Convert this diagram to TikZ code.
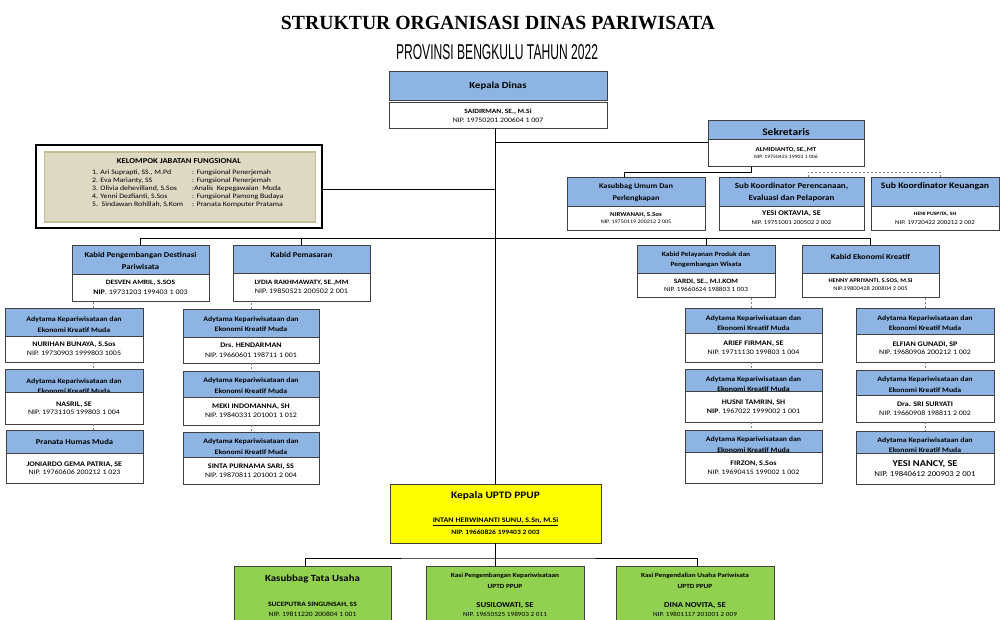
\documentclass[tikz,border=0pt]{standalone}
\usepackage{fontspec}
\setmainfont{Carlito}[FakeStretch=1.15]
\newfontfamily\ttlfont{Liberation Serif}
\newfontfamily\subfont{Liberation Sans}
\usetikzlibrary{calc}
\definecolor{hdrblue}{RGB}{141,180,226}
\definecolor{bordc}{RGB}{64,64,64}
\definecolor{khaki}{RGB}{221,217,195}
\definecolor{khakib}{RGB}{196,189,151}
\definecolor{grn}{RGB}{146,208,80}
\definecolor{ylw}{RGB}{255,255,0}
\newcommand{\fsz}[2]{\fontsize{#1}{#2}\selectfont}
\newcommand{\adyhd}{\fsz{6.8}{10.5}\bfseries Adytama Kepariwisataan dan\\Ekonomi Kreatif Muda}
\newcommand{\adyby}[3]{{\fsz{7}{7}\bfseries #1}\\\fsz{6.9}{#3}#2}
% name, x, y, width, visible header height, header node height, body height, header text, body text
\newcommand{\orgbx}[9]{%
 \node[hdr, text width=#4pt, minimum width=#4pt, minimum height=#6pt, anchor=north west] (#1h) at (#2,#3) {#8\par};
 \node[bdy, text width=#4pt, minimum width=#4pt, minimum height=#7pt, anchor=north west] (#1) at ($(#1h.north west)+(0,#5)$) {#9\par};
}
\tikzset{
 hdr/.style={draw=bordc, line width=0.8pt, fill=hdrblue, inner sep=0pt, outer sep=0pt, align=flush center, text=black},
 bdy/.style={draw=bordc, line width=0.8pt, fill=white, inner sep=0pt, outer sep=0pt, align=flush center, text=black},
 gbox/.style={draw=bordc, line width=0.8pt, fill=grn, inner sep=0pt, outer sep=0pt, align=flush center, text=black},
 conn/.style={draw=black, line width=0.7pt},
 dconn/.style={draw=gray, line width=0.7pt, dash pattern=on 2pt off 2pt},
}
\begin{document}
\begin{tikzpicture}[x=1pt, y=-1pt]
\useasboundingbox (0,0) rectangle (1000,620);
\fill[white] (0,0) rectangle (1000,620);
\clip (0,0) rectangle (1000,620);

% titles
\node[inner sep=0pt] (ttl) at (498,23) {\resizebox{434pt}{13.3pt}{\ttlfont\bfseries STRUKTUR ORGANISASI DINAS PARIWISATA}};
\node[inner sep=0pt] (sub) at (497,52) {\resizebox{202pt}{15pt}{\subfont PROVINSI BENGKULU TAHUN 2022}};

% top
\orgbx{kd}{389}{71}{218}{31}{29}{26.5}{\fsz{9.3}{11}\bfseries Kepala Dinas}{{\fsz{6.5}{7}\bfseries SAIDIRMAN, SE., M.Si}\\\fsz{6.8}{9}NIP. 19750201 200604 1 007}
\orgbx{sek}{708}{120}{156}{19.3}{23.4}{27.4}{\fsz{10}{11}\bfseries Sekretaris}{{\fsz{6}{6}\bfseries ALMIDIANTO, SE.,MT}\\\fsz{5}{6.5}NIP. 19750425 19903 1 006}
\orgbx{kum}{567}{177}{138}{29}{32}{24}{\fsz{7.2}{12}\bfseries Kasubbag Umum Dan\\Perlengkapan}{{\fsz{6}{6}\bfseries NIRWANAH, S.Sos}\\\fsz{5.3}{7.5}NIP. 19750119 200212 2 005}
\orgbx{per}{719}{177}{145}{29}{31}{24}{\fsz{7.8}{12}\bfseries Sub Koordinator Perencanaan,\\Evaluasi dan Pelaporan}{{\fsz{7.2}{7}\bfseries YESI OKTAVIA, SE}\\\fsz{6}{9}NIP. 19751001 200502 2 002}
\orgbx{keu}{871}{177}{128}{29}{29}{24}{\fsz{8.5}{9}\bfseries\raisebox{5.5pt}[\height][\depth]{Sub Koordinator Keuangan}}{{\fsz{5}{5}\bfseries HENI PUSPITA, SH}\\\fsz{6}{9}NIP. 19720422 200212 2 002}

% KJF
\node[draw=black, line width=2.4pt, minimum width=285.6, minimum height=82.6, inner sep=0pt, outer sep=0pt, anchor=north west] (kjf) at (36.2,145.2) {};
\node[fill=khaki, draw=khakib, line width=1.5pt, minimum width=271, minimum height=70, inner sep=0pt, anchor=north west] (kjfp) at (43.5,151.5) {};
\node[inner sep=0pt] (kjft) at (179,161) {\fsz{7.5}{7.5}\bfseries KELOMPOK JABATAN FUNGSIONAL};
\node[inner sep=0pt, anchor=base west] (kjfl) at (92,174.3) {\fsz{6.8}{8}%
\begin{tabular}[t]{@{}p{100pt}@{}l@{}}
1. Ari Suprapti, SS., M.Pd & : Fungsional Penerjemah\\
2. Eva Marianty, SS & : Fungsional Penerjemah\\
3. Olivia dehevilland, S.Sos & :Analis\ \ Kepegawaian\ \ Muda\\
4. Yenni Dezfianti, S.Sos & : Fungsional Pamong Budaya\\
5.\ \ Sindawan Rohillah, S.Kom & : Pranata Komputer Pratama
\end{tabular}};

% Kabid
\orgbx{kb1}{72}{245}{137}{29}{32}{27}{\fsz{7.5}{12}\bfseries Kabid Pengembangan Destinasi\\Pariwisata}{{\fsz{6.6}{7}\bfseries DESVEN AMRIL, S.SOS}\\\fsz{7}{10}\textbf{NIP}. 19731203 199403 1 003}
\orgbx{kb2}{233}{245}{137}{28}{28}{28}{\fsz{7.5}{9}\bfseries\raisebox{4pt}[\height][\depth]{Kabid Pemasaran}}{{\fsz{6.6}{7}\bfseries LYDIA RAKHMAWATY, SE.,MM}\\\fsz{7}{9}NIP. 19850521 200502 2 001}
\orgbx{kb3}{637}{245}{138}{28}{30}{24}{\fsz{6.5}{10}\bfseries Kabid Pelayanan Produk dan\\Pengembangan Wisata}{{\fsz{6.6}{7}\bfseries SARDI, SE., M.I.KOM}\\\fsz{6.3}{8}NIP. 19660624 198803 1 003}
\orgbx{kb4}{802}{245}{137}{28}{28}{24}{\fsz{7.5}{9}\bfseries\raisebox{2pt}[\height][\depth]{Kabid Ekonomi Kreatif}}{{\fsz{5.7}{6}\bfseries HENNY APRIYANTI, S.SOS, M.Si}\\\fsz{5.7}{8}NIP.19800428 200804 2 005}

% columns
\orgbx{a1}{5}{308}{138}{28}{33}{26}{\adyhd}{\adyby{NURIHAN BUNAYA, S.Sos}{NIP. 19730903 1999803 1005}{9}}
\orgbx{a2}{5}{369}{138}{23}{34}{32}{\adyhd}{\adyby{NASRIL, SE}{NIP. 19731105 199803 1 004}{8.5}}
\orgbx{a3}{6}{430}{137}{23}{23}{30}{\fsz{7.5}{9}\bfseries Pranata Humas Muda}{\adyby{JONIARDO GEMA PATRIA, SE}{NIP. 19760606 200212 1 023}{8.5}}
\orgbx{b1}{183}{309}{136}{28}{30}{26}{\adyhd}{\adyby{Drs. HENDARMAN}{NIP. 19660601 198711 1 001}{10}}
\orgbx{b2}{183}{371}{136}{26}{29}{28}{\adyhd}{\adyby{MEKI INDOMANNA, SH}{NIP. 19840331 201001 1 012}{9}}
\orgbx{b3}{183}{432}{136}{25}{29}{27}{\adyhd}{\adyby{SINTA PURNAMA SARI, SS}{NIP. 19870811 201001 2 004}{9}}
\orgbx{c1}{685}{308}{137}{25.5}{30}{28.5}{\adyhd}{\adyby{ARIEF FIRMAN, SE}{NIP. 19711130 199803 1 004}{8.5}}
\orgbx{c2}{685}{369}{137}{22}{30}{31}{\adyhd}{\adyby{HUSNI TAMRIN, SH}{\textbf{NIP}. 1967022 1999002 1 001}{8.5}}
\orgbx{c3}{685}{430}{137}{22}{29}{31}{\adyhd}{\adyby{FIRZON, S.Sos}{NIP. 19690415 199002 1 002}{9}}
\orgbx{d1}{856}{308}{138}{26}{30}{28}{\adyhd}{\adyby{ELFIAN GUNADI, SP}{NIP. 19680906 200212 1 002}{8.5}}
\orgbx{d2}{856}{370}{138}{25}{29}{27}{\adyhd}{\adyby{Dra. SRI SURYATI}{NIP. 19660908 198811 2 002}{9}}
\orgbx{d3}{856}{431}{138}{22}{28}{31}{\adyhd}{{\fsz{9}{8}\bfseries YESI NANCY, SE}\\\fsz{7.6}{10}NIP. 19840612 200903 2 001}

% UPTD
\node[draw=bordc, line width=0.8pt, fill=ylw, inner sep=0pt, outer sep=0pt, align=flush center, text width=211pt, minimum width=211, minimum height=59, anchor=north west] (up) at (390,484)
 {\fsz{9.9}{12}\bfseries Kepala UPTD PPUP\\[12pt]\fsz{7}{12}\underline{INTAN HERWINANTI SUNU, S.Sn, M.Si}\\\fsz{6.6}{12}NIP. 19660826 199403 2 003\par};
\node[gbox, text width=157pt, minimum width=157, minimum height=59, anchor=north west] (g1) at (234,566)
 {\fsz{9.4}{10}\bfseries Kasubbag Tata Usaha\\[15pt]\fsz{6.6}{10}SUCEPUTRA SINGUNSAH, SS\\\mdseries\fsz{6.6}{10}NIP. 19811220 200804 1 001\par};
\node[gbox, text width=158pt, minimum width=158, minimum height=57, anchor=north west] (g2) at (426,566)
 {\fsz{6.3}{9}\bfseries Kasi Pengembangan Kepariwisataan\\[2pt]UPTD PPUP\\[10pt]\fsz{7.6}{9}SUSILOWATI, SE\\\mdseries\fsz{6.3}{9}NIP. 19650525 198903 2 011\par};
\node[gbox, text width=158pt, minimum width=158, minimum height=57, anchor=north west] (g3) at (616,566)
 {\fsz{6.3}{9}\bfseries Kasi Pengendalian Usaha Pariwisata\\[2pt]UPTD PPUP\\[10pt]\fsz{7.6}{9}DINA NOVITA, SE\\\mdseries\fsz{6.3}{9}NIP. 19801117 201001 2 009\par};

% connectors
\draw[conn] ($(kd.south)+(-3,0)$) coordinate (tk) -- (tk |- up.north);
\draw[conn] ($(sek.north west)+(0,3)$) coordinate (sl) -- (sl -| tk);
\draw[conn] ($(kjf.east)+(1.2,2.5)$) coordinate (kl) -- (kl -| tk);
\draw[conn] (kb1h.north) -- ++(0,-7) -| (kb4h.north);
\draw[conn] (kb2h.north) -- ++(0,-7);
\draw[conn] (kb3h.north) -- ++(0,-7);
\draw[conn] ($(sek.south)+(-35,0)$) |- ($(kumh.north)+(-12,-5)$) -- ($(kumh.north)+(-12,0)$);
\draw[dconn] ($(perh.north)+(16.5,0)$) -- ++(0,-5) -| ($(keuh.north)+(5,0)$);

\draw[dconn] ($(a1h.north)+(19,0)$) coordinate (xa) -- (xa |- kb1.south);
\draw[dconn] (xa |- a1.south) -- (xa |- a2h.north);
\draw[dconn] (xa |- a2.south) -- (xa |- a3h.north);
\draw[dconn] (b1h.north) coordinate (xb) -- (xb |- kb2.south);
\draw[dconn] (xb |- b1.south) -- (xb |- b2h.north);
\draw[dconn] (xb |- b2.south) -- (xb |- b3h.north);
\draw[dconn] ($(c1h.north)+(-2.5,0)$) coordinate (xc) -- (xc |- kb3.south);
\draw[dconn] (xc |- c1.south) -- (xc |- c2h.north);
\draw[dconn] (xc |- c2.south) -- (xc |- c3h.north);
\draw[dconn] (d1h.north) coordinate (xd) -- (xd |- kb4.south);
\draw[dconn] (xd |- d1.south) -- (xd |- d2h.north);
\draw[dconn] (xd |- d2.south) -- (xd |- d3h.north);

\draw[conn] (up.south) -- ++(0,15) coordinate (ub);
\draw[conn] ($(g1.north)+(-7,0)$) |- (ub) -| ($(g3.north)+(2,0)$);
\draw[conn] (ub) -- (ub |- g2.north);
\end{tikzpicture}
\end{document}
